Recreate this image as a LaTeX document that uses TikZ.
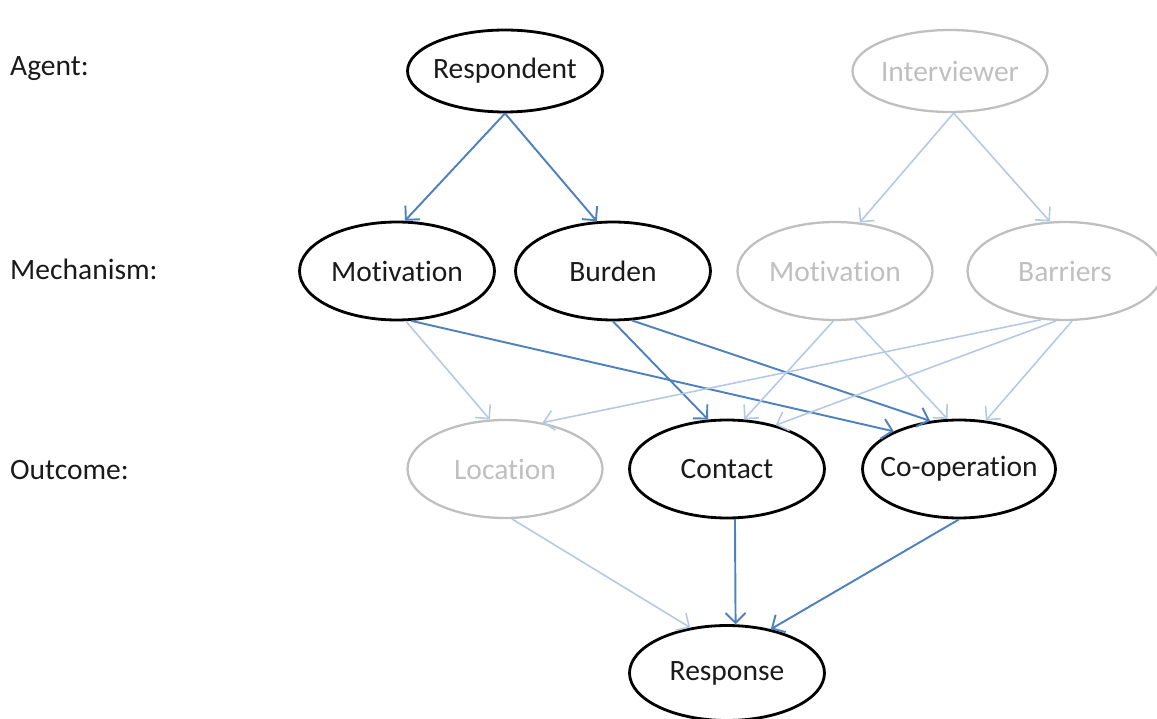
\documentclass[tikz,border=0pt]{standalone}
\usepackage{fontspec}
\setmainfont[Ligatures={NoCommon}]{Carlito}
\usetikzlibrary{shapes.geometric,arrows.meta}
\definecolor{linkblue}{HTML}{4F81BD}
\definecolor{paleblue}{HTML}{B4C9E4}
\definecolor{palegrey}{HTML}{BFBFBF}
\definecolor{inktext}{HTML}{1A1A1A}

\tikzset{
  factor/.style={ellipse, draw=black, line width=1.6pt, inner ysep=0pt, inner xsep=-0.6cm,
    minimum width=3.9cm, minimum height=1.96cm, text=inktext,
    font=\fontsize{16.8}{19}\selectfont},
  agentfactor/.style={factor, minimum height=1.64cm},
  faded/.style={draw=palegrey, text=palegrey, line width=1.3pt},
  rowlabel/.style={anchor=west, text=inktext, font=\fontsize{16.8}{19}\selectfont},
  strong/.style={draw=linkblue, line width=1.1pt, -{Straight Barb[length=2mm,width=4mm]}},
  weak/.style={draw=paleblue, line width=0.9pt, -{Straight Barb[length=2mm,width=4mm]}}
}

\begin{document}
\begin{tikzpicture}[x=0.02cm, y=-0.02cm]
\useasboundingbox (0,0) rectangle (1157,719);

% row labels
\node[rowlabel] (lagent) at (4,69) {Agent:};
\node[rowlabel] (lmech) at (4,269) {Mechanism:};
\node[rowlabel] (lout) at (4,470) {Outcome:};

% agents
\node[agentfactor] (resp) at (505,71) {Respondent};
\node[agentfactor, faded] (intv) at (950,71) {Interviewer};

% mechanisms
\node[factor] (motr) at (397,271) {Motivation};
\node[factor] (burden) at (613,271) {Burden};
\node[factor, faded] (moti) at (835,271) {Motivation};
\node[factor, faded] (barr) at (1065,271) {Barriers};

% outcomes
\node[factor, faded] (loc) at (505,469) {Location};
\node[factor] (contact) at (727,469) {Contact};
\node[factor, minimum width=3.86cm] (coop) at (959,469) {Co-operation};

% final
\node[factor, minimum height=1.9cm] (resp2) at (727,673) {Response};

% agent -> mechanism
\draw[strong] (resp.-90) -- (motr.81);
\draw[strong] (resp.-90) -- (burden.108);
\draw[weak] (intv.-85) -- (moti.63);
\draw[weak] (intv.-85) -- (barr.107);

% mechanism -> outcome
\draw[weak] (motr.-80) -- (loc.107);
\draw[strong] (motr.-74) -- (coop.150);
\draw[strong] (burden.-90) -- (contact.111);
\draw[strong] (burden.-69) -- (coop.121);
\draw[weak] (moti.-92) -- (contact.71);
\draw[weak] (moti.-68) -- (coop.103);
\draw[weak] (barr.-116) -- (loc.51);
\draw[weak] (barr.-100) -- (contact.42);
\draw[weak] (barr.-82) -- (coop.61);

% outcome -> response
\draw[weak] (loc.-82) -- (resp2.129);
\draw[strong] (contact.-81) -- (resp2.80);
\draw[strong] (coop.-90) -- (resp2.45);
\end{tikzpicture}
\end{document}
